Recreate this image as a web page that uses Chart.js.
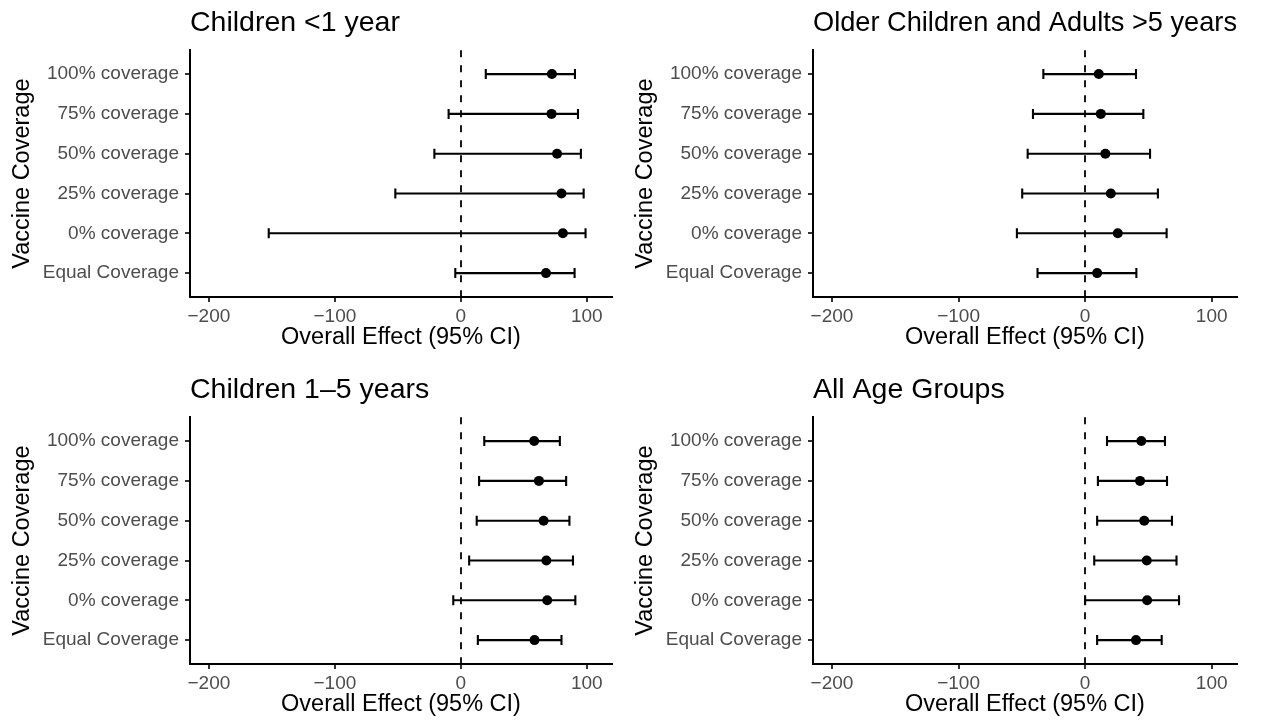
<!DOCTYPE html>
<html>
<head>
<meta charset="utf-8">
<script src="https://cdn.jsdelivr.net/npm/chart.js@4.4.1/dist/chart.umd.min.js"></script>
<style>
  html, body { margin: 0; padding: 0; background: #fff; width: 1265px; height: 727px; overflow: hidden; }
  canvas { position: absolute; }
</style>
</head>
<body>
<canvas id="under1" width="620" height="360" style="left:0;top:0"></canvas>
<canvas id="over5" width="642" height="360" style="left:623px;top:0"></canvas>
<canvas id="kids15" width="620" height="360" style="left:0;top:367px"></canvas>
<canvas id="allAges" width="642" height="360" style="left:623px;top:367px"></canvas>
<script>
// --- dados ---
const categories = ['100% coverage', '75% coverage', '50% coverage', '25% coverage', '0% coverage', 'Equal Coverage'];
const xTickValues = [-200, -100, 0, 100];

// Children <1 year
const under1Est = [72.3, 72.0, 76.4, 79.9, 81.0, 67.6];
const under1Lo  = [19.8, -9.7, -21.0, -52.0, -152.5, -4.4];
const under1Hi  = [90.6, 93.0, 95.3, 97.5, 99.0, 90.3];

// Older Children and Adults >5 years
const over5Est = [10.8, 12.4, 16.0, 20.3, 25.8, 9.5];
const over5Lo  = [-33.0, -41.2, -45.4, -49.7, -53.9, -37.6];
const over5Hi  = [40.2, 46.0, 51.3, 57.5, 64.4, 40.5];

// Children 1–5 years
const kids15Est = [58.2, 62.0, 65.7, 67.9, 68.6, 58.5];
const kids15Lo  = [18.6, 14.5, 12.6, 6.6, -6.0, 13.5];
const kids15Hi  = [78.6, 83.6, 86.2, 89.0, 90.9, 79.9];

// All Age Groups
const allEst = [44.4, 43.4, 46.7, 48.7, 49.0, 40.2];
const allLo  = [17.3, 10.1, 9.5, 7.2, 0.0, 9.5];
const allHi  = [63.1, 64.7, 68.6, 72.2, 74.2, 60.5];

const FONT = "'Liberation Sans', Arial, Helvetica, sans-serif";

// desenha a linha tracejada no zero e as barras de erro (IC 95%)
const errorBarPlugin = {
    id: 'errorBars',
    beforeDatasetsDraw(chart, args, opts) {
        const { ctx, chartArea } = chart;
        const x = chart.scales.x, y = chart.scales.y;
        ctx.save();
        ctx.strokeStyle = '#000';
        ctx.lineWidth = 1.8;
        ctx.setLineDash([7, 8]);
        const x0 = Math.round(x.getPixelForValue(0));
        ctx.beginPath();
        ctx.moveTo(x0, chartArea.top);
        ctx.lineTo(x0, chartArea.bottom);
        ctx.stroke();
        ctx.setLineDash([]);
        ctx.lineWidth = 2.1;
        const cap = 5;
        opts.lo.forEach((l, i) => {
            const yp = y.getPixelForValue(i + 1);
            const x1 = x.getPixelForValue(l);
            const x2 = x.getPixelForValue(opts.hi[i]);
            ctx.beginPath();
            ctx.moveTo(x1, yp); ctx.lineTo(x2, yp);
            ctx.moveTo(x1, yp - cap); ctx.lineTo(x1, yp + cap);
            ctx.moveTo(x2, yp - cap); ctx.lineTo(x2, yp + cap);
            ctx.stroke();
        });
        ctx.restore();
    }
};

function renderForest(canvasId, title, est, lo, hi, padRight) {
    const ctx = document.getElementById(canvasId);
    if (!ctx || typeof Chart === 'undefined') return;

    const axisGrid = { display: true, drawOnChartArea: false, drawTicks: true, tickLength: 5, color: '#333333', lineWidth: 2 };
    const axisBorder = { display: true, color: '#000', width: 2 };

    new Chart(ctx, {
        type: 'scatter',
        data: {
            datasets: [{
                data: est.map((v, i) => ({ x: v, y: i + 1 })),
                backgroundColor: '#000',
                borderWidth: 0,
                pointRadius: 5,
                pointHoverRadius: 5
            }]
        },
        options: {
            responsive: false,
            animation: false,
            events: [],
            layout: { padding: { left: 0, right: padRight, top: 0, bottom: 0 } },
            plugins: {
                legend: { display: false },
                tooltip: { enabled: false },
                title: {
                    display: true,
                    text: title,
                    align: 'start',
                    fullSize: false,
                    color: '#000',
                    font: { family: FONT, size: 28.5, weight: 'normal' },
                    padding: { top: 6, bottom: 10 }
                },
                errorBars: { lo: lo, hi: hi }
            },
            scales: {
                x: {
                    type: 'linear',
                    min: -215,
                    max: 120,
                    afterBuildTicks: s => { s.ticks = xTickValues.map(v => ({ value: v })); },
                    afterFit: s => { s.height = 63; },
                    grid: axisGrid,
                    border: axisBorder,
                    ticks: {
                        color: '#4d4d4d',
                        padding: 3,
                        maxRotation: 0,
                        font: { family: FONT, size: 19 },
                        callback: v => v < 0 ? '\u2212' + Math.abs(v) : String(v)
                    },
                    title: {
                        display: true,
                        text: 'Overall Effect (95% CI)',
                        color: '#000',
                        font: { family: FONT, size: 23.5 },
                        padding: { top: 0, bottom: 8 }
                    }
                },
                y: {
                    type: 'linear',
                    reverse: true,
                    min: 0.4,
                    max: 6.6,
                    afterBuildTicks: s => { s.ticks = categories.map((c, i) => ({ value: i + 1 })); },
                    afterFit: s => { s.width = 190; },
                    grid: axisGrid,
                    border: axisBorder,
                    ticks: {
                        color: '#4d4d4d',
                        padding: 6,
                        font: { family: FONT, size: 19 },
                        callback: v => categories[Math.round(v) - 1]
                    },
                    title: {
                        display: true,
                        text: 'Vaccine Coverage',
                        color: '#000',
                        font: { family: FONT, size: 23.5 },
                        padding: { top: 8, bottom: 0 }
                    }
                }
            }
        },
        plugins: [errorBarPlugin]
    });
}

renderForest('under1', 'Children <1 year', under1Est, under1Lo, under1Hi, 8);
renderForest('over5', 'Older Children and Adults >5 years', over5Est, over5Lo, over5Hi, 28);
renderForest('kids15', 'Children 1\u20135 years', kids15Est, kids15Lo, kids15Hi, 8);
renderForest('allAges', 'All Age Groups', allEst, allLo, allHi, 28);
</script>
</body>
</html>
